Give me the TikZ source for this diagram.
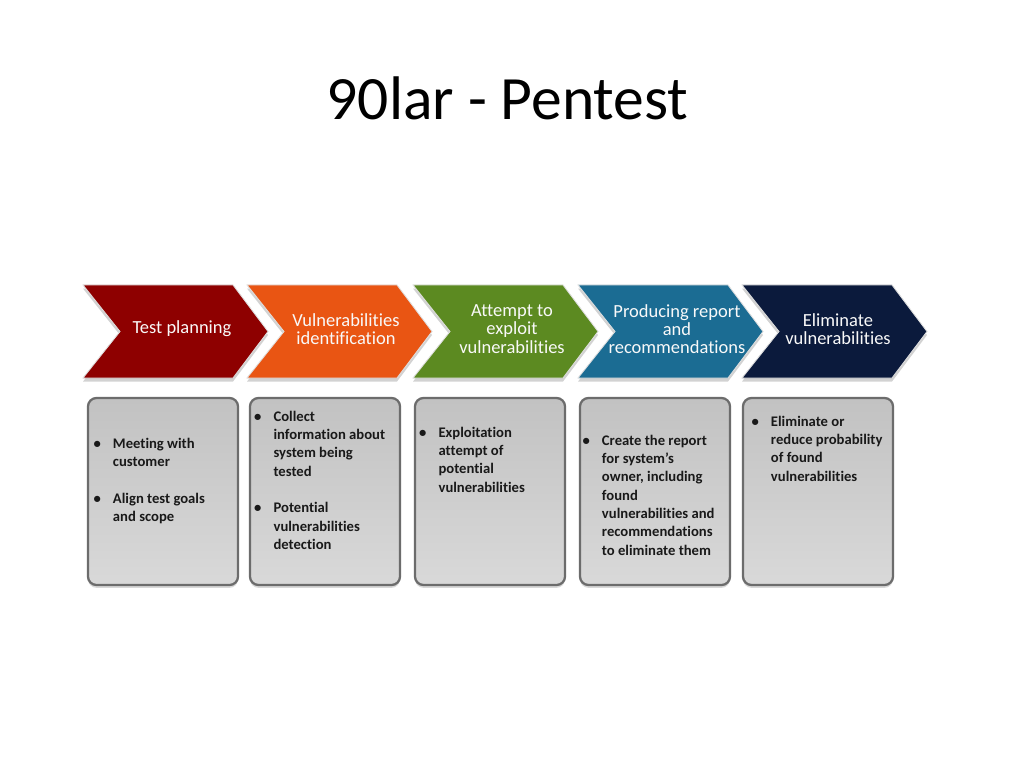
\documentclass[tikz,border=0pt]{standalone}
\usepackage{fontspec}
\setmainfont{Carlito}[Ligatures={NoCommon}]
\usepackage{xcolor}
\usepackage{tikz}
\usetikzlibrary{positioning, shadows}

\begin{document}
\begin{tikzpicture}[
    x=0.703125pt, y=-0.703125pt,
    chevron/.style={draw=white!75!gray, line width=0.6pt,
        drop shadow={shadow xshift=0pt, shadow yshift=-2.5pt, opacity=0.35}},
    chevtext/.style={align=center, inner sep=0pt,
        font=\fontsize{13}{12.8}\selectfont, text=white!95!gray},
    stepcard/.style={rectangle, rounded corners=6pt, draw=gray!85!black,
        line width=1.6pt, top color=black!24, bottom color=black!15,
        minimum width=105.5pt, minimum height=131.5pt,
        drop shadow={shadow xshift=0pt, shadow yshift=-2pt, opacity=0.3}},
    cardtext/.style={anchor=north west, inner sep=0pt, align=left,
        font=\bfseries\fontsize{10.3}{12.9}\selectfont, text=black!90},
]

% ── Colors ──
\definecolor{planfill}{HTML}{8E0000}
\definecolor{identfill}{HTML}{E95513}
\definecolor{exploitfill}{HTML}{5C8A21}
\definecolor{reportfill}{HTML}{1B6C93}
\definecolor{elimfill}{HTML}{0B1A3C}

\useasboundingbox[fill=white] (0,0) rectangle (1024,768);

\newcommand{\bul}{\llap{\textbullet\hspace{8.5pt}}}

% ══════════════════════════════════════════════
% Title
% ══════════════════════════════════════════════
\node[font=\fontsize{43.3}{52}\selectfont, anchor=base] (title) at (507.5,120) {90lar - Pentest};

% ══════════════════════════════════════════════
% ROW 1: Chevrons
% ══════════════════════════════════════════════
\draw[chevron, fill=planfill] (83,285) -- (233,285) -- (268,331.5) -- (233,378) -- (83,378) -- (120,331.5) -- cycle;
\draw[chevron, fill=identfill] (247,285) -- (397,285) -- (432,331.5) -- (397,378) -- (247,378) -- (284,331.5) -- cycle;
\draw[chevron, fill=exploitfill] (413,285) -- (563,285) -- (598,331.5) -- (563,378) -- (413,378) -- (450,331.5) -- cycle;
\draw[chevron, fill=reportfill] (578,285) -- (728,285) -- (763,331.5) -- (728,378) -- (578,378) -- (615,331.5) -- cycle;
\draw[chevron, fill=elimfill] (742,285) -- (892,285) -- (927,331.5) -- (892,378) -- (742,378) -- (779,331.5) -- cycle;

\node[chevtext] (plan) at (182,329) {Test planning};
\node[chevtext] (ident) at (346,329) {Vulnerabilities\\identification};
\node[chevtext] (exploit) at (512,329) {Attempt to\\exploit\\vulnerabilities};
\node[chevtext] (report) at (677,329) {Producing report\\and\\recommendations};
\node[chevtext] (elim) at (838,329) {Eliminate\\vulnerabilities};

% ══════════════════════════════════════════════
% ROW 2: Grey cards
% ══════════════════════════════════════════════
\node[stepcard] (plancard) at (163,491.5) {};
\node[stepcard] (identcard) at (325,491.5) {};
\node[stepcard] (exploitcard) at (490,491.5) {};
\node[stepcard] (reportcard) at (655,491.5) {};
\node[stepcard] (elimcard) at (818,491.5) {};

\node[cardtext] (plantext) at (112.7,437.5)
    {\bul Meeting with\\customer\\[12.9pt]\bul Align test goals\\and scope};
\node[cardtext] (identtext) at (273.3,410.5)
    {\bul Collect\\information about\\system being\\tested\\[12.9pt]\bul Potential\\vulnerabilities\\detection};
\node[cardtext] (exploittext) at (438.3,426.5)
    {\bul Exploitation\\attempt of\\potential\\vulnerabilities};
\node[cardtext] (reporttext) at (601.7,434.5)
    {\bul Create the report\\for system’s\\owner, including\\found\\vulnerabilities and\\recommendations\\to eliminate them};
\node[cardtext] (elimtext) at (770.7,415.5)
    {\bul Eliminate or\\reduce probability\\of found\\vulnerabilities};

\end{tikzpicture}
\end{document}
